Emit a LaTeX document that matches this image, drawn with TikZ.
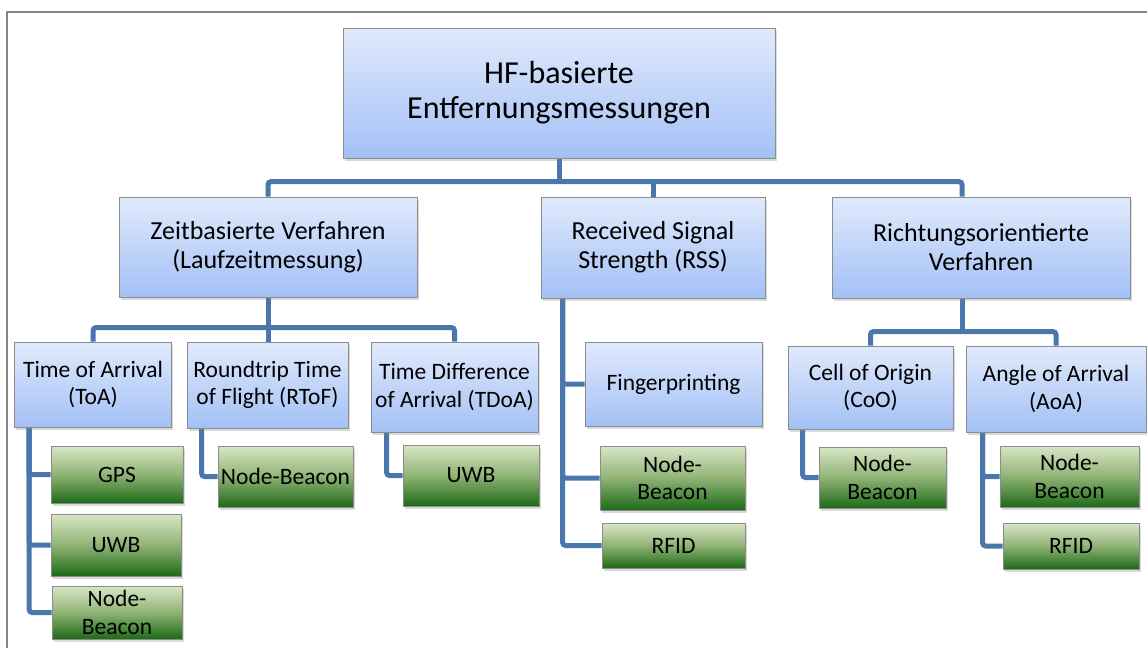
\documentclass[tikz,border=0pt]{standalone}
\usepackage{fontspec}
\setmainfont{Carlito}
\usetikzlibrary{shadows,backgrounds}
\definecolor{frame}{HTML}{868686}
\definecolor{edge}{HTML}{8C8C8C}
\definecolor{link}{HTML}{4A77AB}
\definecolor{blueTop}{HTML}{E0EAFC}
\definecolor{blueBot}{HTML}{A3C0F5}
\definecolor{greenTop}{HTML}{D8E6C6}
\definecolor{greenMid}{HTML}{8FB375}
\definecolor{greenBot}{HTML}{1D6A17}
\begin{document}
\begin{tikzpicture}[x=1pt,y=-1pt,
  card/.style={draw=edge,line width=0.8pt,align=center,inner sep=0pt,
    drop shadow={opacity=0.3,shadow xshift=1.5pt,shadow yshift=-2.5pt}},
  bluebox/.style={card,top color=blueTop,bottom color=blueBot},
  greenbox/.style={card,top color=greenTop,bottom color=greenBot,middle color=greenMid},
  small/.style={font=\fontsize{23.5}{27.5}\selectfont},
  conn/.style={link,line width=5pt,rounded corners=3pt}]
  \useasboundingbox (0,0) rectangle (1147,648);
  % frame
  \draw[frame,line width=2pt] (7,648) -- (7,11.5) -- (1147,11.5);
  % top level
  \node[bluebox,minimum width=432pt,minimum height=130pt,font=\fontsize{32}{35}\selectfont] (root) at (559,93) {HF-basierte\\Entfernungsmessungen};
  % second level
  \node[bluebox,minimum width=298pt,minimum height=100pt,font=\fontsize{26}{29}\selectfont] (zeit) at (268,247) {Zeitbasierte Verfahren\\(Laufzeitmessung)};
  \node[bluebox,minimum width=224pt,minimum height=101pt,font=\fontsize{26}{29}\selectfont] (rss) at (653,247.5) {Received Signal\\Strength (RSS)};
  \node[bluebox,minimum width=298pt,minimum height=101pt,font=\fontsize{26}{29}\selectfont] (richtung) at (981,247.5) {Richtungsorientierte\\Verfahren};
  % third level
  \node[bluebox,small,minimum width=157pt,minimum height=85pt] (toa) at (93,384.5) {Time of Arrival\\(ToA)};
  \node[bluebox,small,minimum width=161pt,minimum height=86pt] (rtof) at (267.5,385) {Roundtrip Time\\of Flight (RToF)};
  \node[bluebox,small,minimum width=167pt,minimum height=90pt] (tdoa) at (454.5,387) {Time Difference\\of Arrival (TDoA)};
  \node[bluebox,small,minimum width=177pt,minimum height=84pt] (finger) at (673.5,384) {Fingerprinting};
  \node[bluebox,small,minimum width=165pt,minimum height=83pt] (coo) at (870.5,387.5) {Cell of Origin\\(CoO)};
  \node[bluebox,small,minimum width=180pt,minimum height=86pt] (aoa) at (1056,389) {Angle of Arrival\\(AoA)};
  % technologies
  \node[greenbox,small,minimum width=132pt,minimum height=57pt] (gps) at (117,474.5) {GPS};
  \node[greenbox,small,minimum width=130pt,minimum height=62pt] (uwb1) at (116,545) {UWB};
  \node[greenbox,small,minimum width=130pt,minimum height=53pt] (nb1) at (117,612.5) {Node-\\Beacon};
  \node[greenbox,small,minimum width=135pt,minimum height=61pt] (nb2) at (285.5,476.5) {Node-Beacon};
  \node[greenbox,small,minimum width=136pt,minimum height=61pt] (uwb2) at (471,475.5) {UWB};
  \node[greenbox,small,minimum width=145pt,minimum height=64pt] (nb3) at (672.5,478) {Node-\\Beacon};
  \node[greenbox,small,minimum width=143pt,minimum height=45pt] (rfid1) at (673.5,545.5) {RFID};
  \node[greenbox,small,minimum width=127pt,minimum height=61pt] (nb4) at (882.5,477.5) {Node-\\Beacon};
  \node[greenbox,small,minimum width=139pt,minimum height=61pt] (nb5) at (1069.5,476.5) {Node-\\Beacon};
  \node[greenbox,small,minimum width=136pt,minimum height=46pt] (rfid2) at (1071,546) {RFID};
  % connectors
  \begin{scope}[on background layer]
    \draw[conn] (root.south) -- ++(0,24);
    \draw[conn] (zeit.north) -- ++(0,-15) -| ([xshift=-19pt]richtung.north);
    \draw[conn] (rss.north) -- ++(0,-15);
    \draw[conn] (zeit.south) -- (zeit.south |- rtof.north);
    \draw[conn] (toa.north) -- ++(0,-14) -| (tdoa.north);
    \draw[conn] ([xshift=-19pt]richtung.south) -- ++(0,34);
    \draw[conn] (coo.north) -- ++(0,-14) -| (aoa.north);
    \draw[conn] ([xshift=15pt]toa.south west) |- (gps.west);
    \draw[conn] ([xshift=15pt]toa.south west) |- (uwb1.west);
    \draw[conn] ([xshift=15pt]toa.south west) |- (nb1.west);
    \draw[conn] ([xshift=15pt]rtof.south west) |- (nb2.west);
    \draw[conn] ([xshift=16pt]tdoa.south west) |- (uwb2.west);
    \draw[conn] ([xshift=22pt]rss.south west) |- (finger.west);
    \draw[conn] ([xshift=22pt]rss.south west) |- (nb3.west);
    \draw[conn] ([xshift=22pt]rss.south west) |- (rfid1.west);
    \draw[conn] ([xshift=15pt]coo.south west) |- (nb4.west);
    \draw[conn] ([xshift=17pt]aoa.south west) |- (nb5.west);
    \draw[conn] ([xshift=17pt]aoa.south west) |- (rfid2.west);
  \end{scope}
\end{tikzpicture}
\end{document}
